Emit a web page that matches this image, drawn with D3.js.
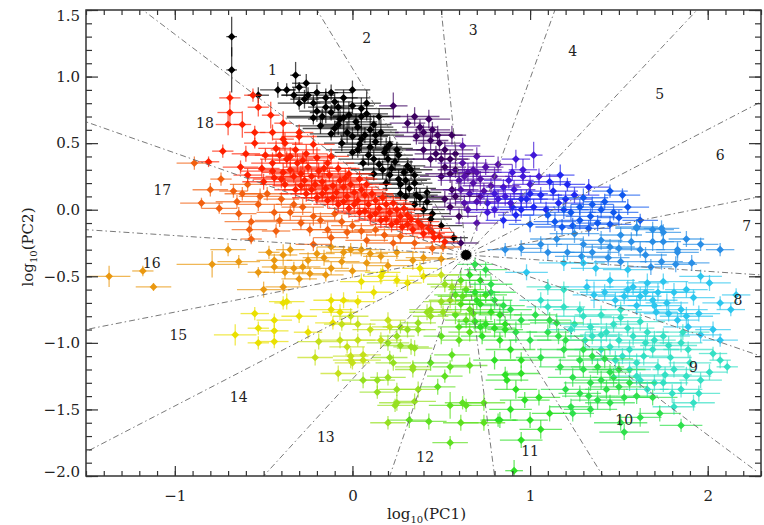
<!DOCTYPE html>
<html>
<head>
<meta charset="utf-8">
<script src="https://cdn.jsdelivr.net/npm/d3@7"></script>
<style>
  body { margin: 0; background: #fff; }
  svg { display: block; }
</style>
</head>
<body>
<div id="chart"></div>
<script>
// axes
const xDomain = [-1.5, 2.3];
const yDomain = [-2.0, 1.5];
const xTicks = [-1, 0, 1, 2];
const yTicks = [-2.0, -1.5, -1.0, -0.5, 0.0, 0.5, 1.0, 1.5];

// centre of the sectors and where each dash-dot ray meets the frame (clockwise from the 18|1 ray)
const center = [0.64, -0.34];
const rayEnds = [
  [-1.18, 1.5], [-0.20, 1.5], [0.50, 1.5], [1.14, 1.5], [1.94, 1.5],
  [2.3, 0.81], [2.3, 0.10], [2.3, -0.49], [2.3, -1.10], [2.28, -1.97],
  [1.41, -2.0], [0.80, -2.0], [0.21, -2.0], [-0.50, -2.0],
  [-1.5, -1.82], [-1.5, -0.90], [-1.5, -0.15], [-1.5, 0.66]
];
const sectorNames = ["1","2","3","4","5","6","7","8","9","10","11","12","13","14","15","16","17","18"];
const sectorLabelPos = [
  [-0.45, 1.05], [0.08, 1.29], [0.68, 1.35], [1.24, 1.19], [1.73, 0.87], [2.07, 0.41],
  [2.22, -0.12], [2.17, -0.68], [1.92, -1.18], [1.53, -1.58], [1.00, -1.81], [0.41, -1.86],
  [-0.15, -1.71], [-0.64, -1.41], [-0.98, -0.94], [-1.13, -0.40], [-1.07, 0.15], [-0.83, 0.65]
];
const sectorColors = [
  "#000000", "#3c0060", "#560fa8", "#4218d8", "#1f28f0", "#1058ee",
  "#2a8ee6", "#2cc6ee", "#34e0c4", "#2ee04c", "#2ee026", "#5ee020",
  "#96e020", "#c4e01a", "#eae000", "#ea9810", "#f26010", "#ff2000"
];

// points: [log PC1, log PC2, error PC1, error PC2]
const blackPts = [
  [-0.68,1.30,0.03,0.15],[-0.68,1.05,0.03,0.17],[-0.53,0.86,0.06,0.06],[-0.37,0.90,0.05,0.05],
  [-0.33,0.86,0.07,0.06],[-0.30,0.92,0.04,0.04],[-0.27,0.83,0.08,0.07],[-0.32,1.01,0.03,0.10],
  [-0.22,0.80,0.10,0.06],[-0.08,0.77,0.06,0.05],[-0.30,0.80,0.12,0.05],[-0.20,0.74,0.10,0.08],
  [-0.10,0.81,0.10,0.07],[0.00,0.78,0.12,0.06],[0.08,0.80,0.08,0.10],[-0.22,0.69,0.15,0.05],
  [-0.12,0.73,0.12,0.06],[-0.02,0.71,0.10,0.10],[0.08,0.72,0.12,0.05],[-0.18,0.63,0.14,0.06],
  [-0.08,0.64,0.10,0.08],[0.02,0.66,0.12,0.06],[0.12,0.64,0.10,0.07],[-0.12,0.57,0.12,0.05],
  [-0.03,0.58,0.10,0.08],[0.07,0.56,0.14,0.06],[0.16,0.58,0.10,0.10],[-0.06,0.50,0.10,0.06],
  [0.04,0.49,0.12,0.07],[0.13,0.51,0.10,0.05],[0.21,0.49,0.12,0.06],[0.00,0.43,0.10,0.05],
  [0.09,0.41,0.12,0.08],[0.18,0.43,0.10,0.06],[0.26,0.41,0.08,0.05],[0.06,0.35,0.10,0.06],
  [0.15,0.34,0.12,0.05],[0.24,0.36,0.10,0.07],[0.31,0.33,0.10,0.06],[0.12,0.27,0.10,0.05],
  [0.21,0.26,0.12,0.06],[0.29,0.28,0.10,0.05],[0.35,0.26,0.08,0.07],[0.19,0.20,0.10,0.06],
  [0.27,0.19,0.12,0.05],[0.35,0.20,0.10,0.06],[0.27,0.12,0.10,0.05],[0.36,0.11,0.12,0.06],
  [0.42,0.13,0.08,0.05],[0.35,0.04,0.10,0.05],[0.42,0.06,0.10,0.06],[0.45,-0.03,0.10,0.04],
  [0.50,-0.12,0.12,0.04],[0.57,-0.21,0.08,0.04],[0.61,-0.25,0.10,0.05],[0.10,0.60,0.15,0.12],
  [-0.15,0.77,0.10,0.12],[0.05,0.53,0.12,0.10],[0.20,0.38,0.15,0.10],[0.30,0.22,0.12,0.10],
  [-0.05,0.69,0.08,0.14],
  [-0.25,0.86,0.15,0.06],[-0.15,0.84,0.18,0.07],[-0.05,0.84,0.15,0.06],[0.05,0.76,0.18,0.08],
  [-0.17,0.70,0.20,0.06],[-0.07,0.68,0.18,0.07],[0.03,0.62,0.20,0.06],[0.13,0.56,0.16,0.08],
  [-0.10,0.61,0.18,0.06],[0.00,0.55,0.20,0.07],[0.10,0.47,0.18,0.06],[0.19,0.46,0.15,0.08],
  [0.03,0.45,0.18,0.06],[0.12,0.38,0.20,0.07],[0.22,0.31,0.16,0.06],[0.26,0.23,0.18,0.07],
  [0.32,0.16,0.15,0.06],[0.38,0.09,0.14,0.07],[0.40,0.00,0.12,0.06],[0.44,-0.07,0.12,0.05],
  [0.30,0.10,0.16,0.06],[0.17,0.30,0.18,0.07],[0.25,0.45,0.14,0.06],[0.33,0.30,0.12,0.07],
  [-0.20,0.88,0.12,0.06],[-0.42,0.90,0.10,0.06],[-0.26,0.95,0.08,0.07],[0.15,0.70,0.12,0.06],
  [0.05,0.70,0.16,0.08],[-0.12,0.88,0.12,0.06],[0.00,0.90,0.10,0.07]
];
const redPts = [
  [-0.69,0.84,0.06,0.05],[-0.69,0.73,0.07,0.10],[-0.70,0.64,0.07,0.08],[-0.62,0.64,0.05,0.10],
  [-0.53,0.77,0.06,0.07],[-0.56,0.86,0.05,0.05],[-0.55,0.50,0.06,0.04],[-0.46,0.71,0.05,0.10],
  [-0.39,0.65,0.05,0.09],[-0.39,0.53,0.06,0.07],[-0.73,0.44,0.06,0.05],[-0.63,0.32,0.10,0.05],
  [-0.81,0.36,0.06,0.04],[-0.59,0.26,0.08,0.05],[-0.30,0.58,0.08,0.06],[-0.55,0.58,0.06,0.05],
  [-0.60,0.42,0.08,0.06],[-0.45,0.58,0.07,0.06],[-0.30,0.55,0.10,0.06],[-0.22,0.49,0.12,0.07],
  [-0.12,0.40,0.10,0.06],
  [-0.50,0.21,0.12,0.06],[-0.51,0.31,0.10,0.07],[-0.49,0.41,0.14,0.05],
  [-0.44,0.24,0.15,0.06],[-0.45,0.35,0.12,0.08],[-0.43,0.46,0.10,0.06],
  [-0.38,0.19,0.14,0.05],[-0.39,0.28,0.12,0.07],[-0.37,0.38,0.15,0.06],[-0.38,0.50,0.10,0.08],
  [-0.32,0.15,0.12,0.06],[-0.33,0.25,0.16,0.05],[-0.31,0.35,0.12,0.07],[-0.32,0.45,0.14,0.06],
  [-0.26,0.12,0.15,0.06],[-0.27,0.22,0.12,0.08],[-0.25,0.32,0.14,0.05],[-0.26,0.42,0.12,0.07],
  [-0.20,0.09,0.14,0.05],[-0.21,0.19,0.12,0.07],[-0.19,0.29,0.16,0.06],[-0.20,0.39,0.10,0.08],
  [-0.14,0.07,0.12,0.06],[-0.15,0.16,0.14,0.07],[-0.13,0.26,0.12,0.05],[-0.14,0.35,0.15,0.07],
  [-0.08,0.04,0.14,0.06],[-0.09,0.13,0.12,0.08],[-0.07,0.22,0.15,0.06],[-0.08,0.31,0.12,0.05],
  [-0.02,0.01,0.12,0.07],[-0.03,0.10,0.16,0.06],[-0.01,0.19,0.12,0.07],[-0.02,0.27,0.14,0.05],
  [0.04,-0.02,0.14,0.06],[0.03,0.07,0.12,0.07],[0.05,0.15,0.15,0.05],[0.04,0.23,0.10,0.06],
  [0.10,-0.05,0.12,0.06],[0.09,0.04,0.14,0.07],[0.11,0.12,0.12,0.05],
  [0.16,-0.08,0.15,0.06],[0.15,0.01,0.12,0.07],[0.17,0.09,0.10,0.05],
  [0.22,-0.11,0.12,0.06],[0.21,-0.02,0.14,0.05],[0.23,0.05,0.10,0.06],
  [0.28,-0.13,0.14,0.05],[0.27,-0.05,0.12,0.06],[0.29,0.01,0.10,0.05],
  [0.34,-0.15,0.12,0.05],[0.33,-0.07,0.10,0.06],[0.40,-0.18,0.12,0.05],[0.39,-0.12,0.10,0.05],
  [0.46,-0.21,0.10,0.04],[0.45,-0.17,0.12,0.05],[0.52,-0.24,0.08,0.04],
  [-0.45,0.29,0.18,0.06],[-0.40,0.23,0.16,0.07],[-0.35,0.30,0.18,0.06],[-0.29,0.18,0.16,0.07],
  [-0.23,0.25,0.18,0.06],[-0.17,0.21,0.20,0.07],[-0.11,0.18,0.18,0.06],[-0.05,0.17,0.20,0.07],
  [0.01,0.13,0.18,0.06],[0.07,0.11,0.16,0.07],[0.13,0.07,0.18,0.06],[0.19,0.04,0.16,0.07],
  [0.25,0.00,0.15,0.06],[0.31,-0.04,0.14,0.06],[0.37,-0.09,0.12,0.06],[0.43,-0.14,0.12,0.05],
  [0.49,-0.20,0.10,0.05],[-0.11,0.09,0.18,0.06],[-0.05,0.06,0.16,0.07],[0.01,0.04,0.18,0.06],
  [0.07,-0.01,0.16,0.07],[0.13,-0.03,0.18,0.06],[0.19,-0.07,0.16,0.06],[0.25,-0.09,0.15,0.06],
  [0.31,-0.11,0.14,0.05],[-0.17,0.12,0.18,0.06],[-0.23,0.15,0.16,0.07],[-0.29,0.27,0.18,0.06],
  [-0.35,0.40,0.16,0.07],[-0.41,0.41,0.14,0.06],[-0.28,0.37,0.16,0.07],[-0.16,0.31,0.18,0.06],
  [-0.04,0.24,0.16,0.07],[0.08,0.19,0.14,0.06]
];
const orangeRedPts = [
  [-0.89,0.35,0.10,0.05],[-0.75,0.01,0.10,0.04],[-0.65,0.06,0.12,0.05],[-0.74,0.23,0.06,0.05],
  [-0.67,0.14,0.08,0.05],[-0.57,-0.09,0.15,0.05],[-0.58,-0.15,0.10,0.05],[-0.43,-0.16,0.08,0.05],
  [-0.57,-0.22,0.06,0.04],[-0.53,0.04,0.12,0.05],[-0.44,-0.02,0.10,0.06],[-0.59,0.19,0.10,0.05],
  [-0.52,0.10,0.12,0.06],[-0.64,-0.03,0.10,0.05],[-0.41,-0.08,0.14,0.05],[-0.35,-0.02,0.12,0.06],
  [-0.29,-0.10,0.14,0.05],[-0.22,-0.05,0.12,0.07],[-0.33,0.04,0.10,0.05],[-0.24,-0.15,0.10,0.05],
  [-0.14,-0.15,0.12,0.06],[-0.03,-0.17,0.14,0.05],[0.08,-0.23,0.12,0.05],[0.23,-0.25,0.15,0.05],
  [-0.12,-0.21,0.10,0.05],[0.05,-0.16,0.10,0.06],[0.27,-0.20,0.10,0.05],[-0.18,-0.08,0.12,0.06],
  [-0.06,-0.09,0.10,0.05],[0.13,-0.15,0.12,0.05],[0.51,-0.28,0.10,0.04],[-0.10,-0.03,0.12,0.05],
  [0.00,-0.12,0.12,0.05],[0.18,-0.19,0.10,0.05],[0.35,-0.25,0.10,0.05],[0.45,-0.29,0.12,0.05],
  [-0.40,0.08,0.10,0.05],[-0.48,0.12,0.12,0.05],[-0.62,0.12,0.10,0.05],[-0.80,0.15,0.10,0.05],
  [-0.85,0.05,0.12,0.04],[-0.28,0.02,0.12,0.06]
];
const orangePts = [
  [-1.37,-0.50,0.12,0.08],[-1.18,-0.46,0.06,0.04],[-1.12,-0.58,0.10,0.03],[-0.79,-0.41,0.20,0.10],
  [-0.64,-0.39,0.12,0.05],[-0.53,-0.47,0.06,0.04],[-0.47,-0.32,0.06,0.05],[-0.39,-0.34,0.08,0.08],
  [-0.44,-0.43,0.07,0.05],[-0.50,-0.60,0.15,0.06],[-0.39,-0.58,0.10,0.05],[-0.35,-0.30,0.08,0.05],
  [-0.28,-0.43,0.10,0.05],[-0.16,-0.36,0.12,0.06],[-0.06,-0.39,0.10,0.05],[-0.01,-0.30,0.10,0.05],
  [-0.12,-0.28,0.08,0.05],[-0.22,-0.26,0.10,0.05],[0.25,-0.32,0.12,0.05],[0.34,-0.38,0.10,0.07],
  [-0.44,-0.38,0.10,0.05],[-0.33,-0.44,0.10,0.05],[-0.25,-0.38,0.12,0.06],[-0.24,-0.48,0.10,0.05],
  [-0.20,-0.33,0.10,0.05],[-0.05,-0.32,0.10,0.05],[0.08,-0.40,0.12,0.06],[0.16,-0.35,0.10,0.05],
  [0.05,-0.30,0.10,0.05],[-0.38,-0.47,0.12,0.05],[-0.12,-0.44,0.10,0.05],[-0.70,-0.30,0.10,0.05],
  [0.00,-0.46,0.10,0.05],[0.20,-0.42,0.12,0.05],[0.10,-0.33,0.10,0.05],[-0.30,-0.52,0.10,0.05],
  [-0.15,-0.49,0.10,0.05],[0.40,-0.36,0.10,0.05],[0.50,-0.37,0.08,0.05]
];
const yellowPts = [
  [-0.66,-0.94,0.12,0.08],[-0.53,-0.89,0.06,0.05],[-0.53,-1.00,0.06,0.05],[-0.44,-0.99,0.08,0.05],
  [-0.44,-0.83,0.10,0.05],[-0.39,-0.70,0.05,0.05],[-0.44,-0.91,0.08,0.05],[-0.37,-0.69,0.10,0.06],
  [-0.12,-0.68,0.10,0.05],[-0.05,-0.68,0.10,0.06],[-0.12,-0.75,0.12,0.05],[-0.07,-0.77,0.10,0.06],
  [-0.11,-0.85,0.10,0.05],[-0.01,-0.80,0.10,0.06],[0.03,-0.69,0.10,0.05],[0.05,-0.54,0.12,0.06],
  [0.12,-0.62,0.10,0.05],[0.31,-0.55,0.08,0.06],[0.38,-0.44,0.10,0.05],[0.17,-0.47,0.10,0.05],
  [0.16,-0.50,0.10,0.06],[0.25,-0.53,0.10,0.05],[0.40,-0.50,0.08,0.05],[-0.06,-0.86,0.10,0.05],
  [0.03,-0.86,0.10,0.06],[-0.19,-0.99,0.12,0.06],[-0.21,-1.11,0.10,0.06],[-0.01,-1.10,0.10,0.06],
  [0.00,-1.15,0.10,0.05],[0.06,-1.09,0.10,0.06],[-0.07,-0.98,0.12,0.06],[0.03,-0.98,0.10,0.05],
  [0.16,-0.98,0.12,0.06],[0.20,-0.83,0.10,0.06],[0.10,-0.90,0.10,0.05],[-0.08,-1.23,0.10,0.06],
  [0.06,-1.28,0.12,0.06],[0.14,-1.37,0.10,0.05],[0.20,-1.26,0.10,0.06],[-0.03,-1.03,0.10,0.05],
  [-0.01,-1.13,0.10,0.06],[0.06,-1.13,0.10,0.05],[0.14,-1.28,0.10,0.06],[0.21,-1.11,0.10,0.05],
  [0.20,-1.00,0.12,0.06],[0.25,-0.95,0.10,0.05],[0.33,-1.03,0.10,0.06],[0.21,-0.88,0.10,0.05],
  [0.31,-0.90,0.10,0.06],[0.37,-0.85,0.10,0.05],[0.44,-0.80,0.10,0.06],[0.51,-0.77,0.10,0.05],
  [-0.30,-0.80,0.10,0.05],[-0.25,-0.92,0.08,0.05],[-0.55,-0.78,0.08,0.05]
];
const greenPts = [
  [0.23,-1.15,0.10,0.06],[0.27,-1.02,0.10,0.05],[0.35,-1.04,0.10,0.06],[0.34,-1.20,0.10,0.06],
  [0.37,-0.90,0.10,0.05],[0.42,-0.77,0.10,0.06],[0.50,-0.69,0.10,0.05],[0.27,-0.88,0.10,0.05],
  [0.48,-1.33,0.10,0.06],[0.24,-1.47,0.10,0.05],[0.35,-1.44,0.12,0.06],[0.20,-1.60,0.10,0.05],
  [0.32,-1.58,0.12,0.06],[0.43,-1.59,0.10,0.06],[0.55,-1.47,0.12,0.10],[0.55,-1.75,0.10,0.05],
  [0.61,-1.60,0.10,0.06],[0.64,-1.47,0.10,0.05],[0.66,-1.17,0.10,0.06],[0.56,-1.09,0.10,0.05],
  [0.34,-1.18,0.10,0.05],[0.44,-1.15,0.10,0.06],[0.55,-1.18,0.10,0.05],[0.37,-1.35,0.10,0.06],
  [0.25,-1.35,0.10,0.05],[0.25,-1.45,0.10,0.06],[0.62,-1.45,0.10,0.05],[0.74,-1.45,0.12,0.06],
  [0.82,-1.58,0.10,0.05],[0.74,-1.60,0.12,0.06],[0.91,-1.96,0.05,0.08],[0.50,-0.95,0.10,0.06],
  [0.60,-0.98,0.10,0.05],[0.52,-1.25,0.10,0.05]
];
const brightGreenPts = [
  [0.58,-0.64,0.12,0.07],[0.64,-0.60,0.10,0.06],[0.69,-0.62,0.14,0.08],[0.75,-0.64,0.12,0.06],
  [0.80,-0.68,0.10,0.07],[0.61,-0.71,0.12,0.06],[0.66,-0.75,0.14,0.07],[0.72,-0.71,0.12,0.08],
  [0.78,-0.77,0.10,0.06],[0.83,-0.79,0.12,0.07],[0.64,-0.83,0.12,0.06],[0.69,-0.84,0.10,0.07],
  [0.75,-0.86,0.14,0.06],[0.80,-0.89,0.12,0.07],[0.86,-0.90,0.10,0.06],[0.66,-0.92,0.12,0.07],
  [0.73,-0.95,0.12,0.06],[0.58,-0.79,0.10,0.07],[0.55,-0.68,0.12,0.06],[0.61,-0.53,0.10,0.07],
  [0.66,-0.49,0.12,0.06],[0.72,-0.53,0.10,0.07],[0.78,-0.56,0.12,0.06],[0.44,-0.75,0.12,0.06],
  [0.52,-0.56,0.10,0.06],[0.50,-0.49,0.10,0.05],[0.69,-0.41,0.10,0.05],[0.75,-0.45,0.12,0.06],
  [0.62,-0.65,0.14,0.06],[0.70,-0.68,0.12,0.07],[0.78,-0.62,0.14,0.06],[0.68,-0.78,0.12,0.07],
  [0.60,-0.88,0.12,0.06],[0.85,-0.72,0.12,0.07],[0.72,-0.88,0.14,0.06],[0.56,-0.58,0.12,0.06]
];
const green11Pts = [
  [0.89,-0.75,0.12,0.07],[0.86,-0.86,0.14,0.06],[0.92,-0.92,0.12,0.08],[0.83,-0.98,0.10,0.06],
  [0.89,-1.05,0.14,0.07],[0.95,-1.13,0.12,0.06],[0.80,-1.13,0.12,0.07],[0.86,-1.24,0.10,0.06],
  [0.92,-1.35,0.12,0.07],[0.97,-1.43,0.14,0.06],[0.89,-1.50,0.12,0.07],[1.00,-1.58,0.10,0.06],
  [0.95,-1.73,0.12,0.06],[1.06,-1.65,0.12,0.07],[0.83,-1.58,0.10,0.06],[1.05,-1.41,0.12,0.06],
  [0.87,-1.28,0.12,0.07],[0.95,-0.83,0.14,0.06],[1.00,-0.98,0.12,0.07],[0.95,-1.23,0.10,0.06]
];
const green10Pts = [
  [1.19,-1.05,0.15,0.06],[1.28,-1.13,0.12,0.07],[1.38,-1.18,0.15,0.06],[1.47,-1.26,0.12,0.07],
  [1.56,-1.30,0.15,0.06],[1.66,-1.35,0.12,0.06],[1.24,-1.26,0.14,0.07],[1.34,-1.30,0.15,0.06],
  [1.43,-1.35,0.12,0.07],[1.53,-1.41,0.14,0.06],[1.28,-1.38,0.12,0.06],[1.38,-1.43,0.15,0.07],
  [1.17,-1.18,0.12,0.06],[1.06,-1.11,0.14,0.07],[1.10,-0.92,0.12,0.06],[1.15,-0.85,0.15,0.07],
  [1.23,-1.48,0.12,0.06],[1.34,-1.50,0.15,0.06],[1.51,-1.60,0.15,0.06],[1.62,-1.56,0.12,0.07],
  [1.73,-1.53,0.12,0.06],[1.53,-1.67,0.14,0.06],[1.24,-1.53,0.12,0.06],[1.11,-1.53,0.10,0.06],
  [1.48,-1.13,0.14,0.07],[1.56,-1.20,0.12,0.06],[1.40,-1.05,0.15,0.07],[1.31,-0.98,0.12,0.06],
  [1.23,-0.90,0.14,0.07],[1.11,-0.83,0.12,0.06],[1.03,-0.79,0.12,0.07],[1.45,-1.22,0.12,0.06],
  [1.35,-1.10,0.14,0.06],[1.60,-1.40,0.12,0.06],
  [1.20,-0.98,0.16,0.07],[1.30,-1.05,0.15,0.06],[1.42,-1.12,0.16,0.07],[1.50,-1.20,0.15,0.06],
  [1.60,-1.25,0.14,0.07],[1.30,-1.20,0.16,0.06],[1.40,-1.28,0.15,0.07],[1.50,-1.33,0.16,0.06],
  [1.20,-1.35,0.14,0.06],[1.33,-1.40,0.15,0.07],[1.45,-1.45,0.14,0.06],[1.16,-0.95,0.14,0.06]
];
const turqPts = [
  [1.34,-0.88,0.15,0.06],[1.43,-0.92,0.12,0.07],[1.55,-0.89,0.15,0.06],[1.66,-0.92,0.12,0.07],
  [1.75,-0.95,0.15,0.06],[1.85,-1.00,0.12,0.07],[1.45,-1.03,0.14,0.06],[1.56,-1.05,0.12,0.07],
  [1.69,-1.05,0.15,0.06],[1.79,-1.11,0.12,0.07],[1.89,-1.05,0.14,0.06],[1.60,-1.15,0.12,0.07],
  [1.72,-1.18,0.15,0.06],[1.81,-1.20,0.12,0.06],[1.75,-1.30,0.14,0.07],[1.85,-1.35,0.12,0.06],
  [1.92,-1.45,0.12,0.06],[1.81,-1.48,0.12,0.06],[1.69,-1.41,0.14,0.06],[2.11,-1.18,0.06,0.05],
  [2.07,-1.13,0.06,0.06],[2.03,-1.08,0.08,0.05],[1.28,-0.75,0.15,0.06],[1.19,-0.73,0.12,0.07],
  [1.10,-0.73,0.12,0.06],[1.40,-0.79,0.15,0.07],[1.51,-0.81,0.12,0.06],[1.62,-0.84,0.14,0.07],
  [1.96,-0.94,0.12,0.06],[2.07,-0.98,0.10,0.05],[1.96,-1.28,0.12,0.06],[2.01,-1.22,0.10,0.06],
  [1.62,-1.28,0.14,0.06],[1.40,-0.94,0.12,0.06],[1.25,-0.86,0.14,0.06],[1.85,-1.62,0.12,0.05],
  [1.06,-0.68,0.12,0.06],[1.50,-0.98,0.14,0.06],[1.70,-0.98,0.12,0.07],[1.90,-1.15,0.12,0.06],
  [1.30,-0.80,0.16,0.07],[1.47,-0.86,0.15,0.06],[1.58,-0.95,0.16,0.07],[1.65,-1.00,0.15,0.06],
  [1.78,-1.02,0.16,0.07],[1.52,-1.10,0.15,0.06],[1.64,-1.10,0.16,0.07],[1.76,-1.24,0.15,0.06],
  [1.88,-1.25,0.14,0.07],[1.70,-1.30,0.15,0.06],[1.80,-1.38,0.14,0.07],[1.95,-1.38,0.12,0.06],
  [1.86,-0.92,0.15,0.06],[1.35,-0.95,0.14,0.06]
];
const cyanPts = [
  [1.32,-0.58,0.15,0.06],[1.36,-0.64,0.12,0.10],[1.58,-0.58,0.15,0.06],[1.66,-0.55,0.12,0.07],
  [1.53,-0.65,0.15,0.06],[1.62,-0.65,0.12,0.07],[1.69,-0.68,0.14,0.06],[1.77,-0.70,0.12,0.07],
  [1.85,-0.75,0.15,0.06],[1.83,-0.83,0.12,0.06],[1.89,-0.88,0.14,0.06],[2.03,-0.90,0.10,0.06],
  [2.07,-0.70,0.10,0.05],[2.01,-0.55,0.12,0.06],[1.96,-0.50,0.12,0.05],[1.75,-0.54,0.14,0.06],
  [1.81,-0.62,0.12,0.07],[1.51,-0.75,0.12,0.06],[1.19,-0.60,0.15,0.06],[1.10,-0.58,0.12,0.06],
  [0.98,-0.47,0.12,0.06],[1.45,-0.53,0.14,0.06],[1.71,-0.77,0.12,0.06],[2.13,-0.75,0.08,0.05],
  [2.16,-0.64,0.08,0.05],[1.60,-0.72,0.14,0.07],[1.92,-0.66,0.12,0.06],[1.42,-0.62,0.14,0.06],
  [1.55,-0.60,0.15,0.07],[1.65,-0.62,0.14,0.06],[1.72,-0.62,0.15,0.07],[1.78,-0.78,0.14,0.06],
  [1.88,-0.80,0.15,0.07],[1.95,-0.78,0.12,0.06],[1.70,-0.72,0.15,0.06],[1.48,-0.68,0.14,0.06],
  [1.88,-0.60,0.12,0.06]
];
const skyPts = [
  [1.10,-0.32,0.15,0.06],[1.21,-0.32,0.12,0.06],[1.29,-0.35,0.15,0.07],[1.44,-0.36,0.12,0.06],
  [1.51,-0.39,0.15,0.06],[1.74,-0.39,0.12,0.06],[1.83,-0.32,0.12,0.07],[1.91,-0.40,0.10,0.06],
  [1.37,-0.44,0.14,0.06],[1.50,-0.29,0.12,0.06],[1.74,-0.14,0.10,0.06],[1.60,-0.14,0.12,0.06],
  [1.69,-0.24,0.12,0.07],[1.75,-0.24,0.10,0.06],[1.83,-0.30,0.12,0.06],[1.82,-0.41,0.12,0.06],
  [1.19,-0.40,0.14,0.06],[1.69,-0.15,0.12,0.06],[1.75,-0.17,0.10,0.06],[1.30,-0.26,0.15,0.06],
  [1.40,-0.23,0.12,0.07],[1.51,-0.19,0.12,0.06],[1.96,-0.26,0.10,0.05],[2.07,-0.30,0.08,0.05],
  [1.06,-0.26,0.12,0.06],[0.95,-0.29,0.12,0.06],[0.86,-0.30,0.10,0.05],[1.62,-0.30,0.14,0.06],
  [1.30,-0.40,0.12,0.06],
  [1.15,-0.22,0.15,0.06],[1.25,-0.18,0.14,0.07],[1.35,-0.32,0.15,0.06],[1.45,-0.28,0.14,0.06],
  [1.57,-0.24,0.15,0.07],[1.65,-0.34,0.12,0.06],[1.88,-0.22,0.10,0.06],[1.55,-0.45,0.14,0.06],
  [1.68,-0.43,0.12,0.06]
];
const bluePts = [
  [0.90,0.28,0.10,0.06],[0.96,0.30,0.08,0.08],[1.11,0.21,0.12,0.06],[1.21,0.19,0.10,0.05],
  [1.33,0.17,0.12,0.06],[1.52,0.11,0.10,0.05],[1.35,0.04,0.12,0.06],[1.16,0.05,0.14,0.07],
  [1.02,0.02,0.12,0.06],[0.89,0.05,0.12,0.07],[1.23,-0.02,0.14,0.06],[1.28,-0.08,0.12,0.07],
  [1.34,-0.05,0.14,0.06],[1.38,-0.10,0.12,0.06],[1.60,-0.13,0.12,0.06],[1.45,0.14,0.10,0.05],
  [1.19,0.00,0.14,0.07],[1.24,-0.12,0.12,0.06],[1.50,-0.06,0.12,0.06],[1.06,0.11,0.12,0.06],
  [1.00,0.19,0.10,0.07],[1.09,0.00,0.14,0.06],[1.14,-0.09,0.12,0.07],[1.00,-0.11,0.12,0.06],
  [0.92,-0.04,0.10,0.06],[1.40,0.00,0.12,0.06],[1.45,-0.11,0.12,0.06],[1.25,0.11,0.14,0.06],
  [1.17,0.26,0.08,0.08],[1.62,-0.08,0.10,0.05],
  [1.05,0.25,0.12,0.06],[1.13,0.14,0.14,0.07],[1.20,0.08,0.15,0.06],[1.30,0.09,0.14,0.07],
  [1.28,0.02,0.15,0.06],[1.10,-0.04,0.14,0.07],[1.18,-0.13,0.15,0.06],[1.33,-0.14,0.12,0.06],
  [1.42,0.06,0.12,0.06],[1.55,0.02,0.12,0.06],[1.47,-0.02,0.14,0.06],[0.98,0.08,0.12,0.07]
];
const purplePts = [
  [0.23,0.78,0.08,0.10],[0.31,0.65,0.10,0.07],[0.38,0.62,0.10,0.06],[0.43,0.68,0.12,0.07],
  [0.36,0.55,0.12,0.06],[0.44,0.52,0.10,0.07],[0.49,0.50,0.12,0.06],[0.40,0.45,0.10,0.07],
  [0.47,0.42,0.12,0.06],[0.55,0.38,0.10,0.07],[0.44,0.38,0.12,0.06],[0.52,0.32,0.12,0.07],
  [0.58,0.30,0.10,0.06],[0.65,0.28,0.12,0.07],[0.60,0.22,0.12,0.06],[0.68,0.20,0.10,0.07],
  [0.72,0.23,0.12,0.06],[0.56,0.15,0.12,0.07],[0.61,0.15,0.10,0.06],[0.66,0.12,0.12,0.07],
  [0.74,0.14,0.12,0.06],[0.63,0.05,0.10,0.06],[0.70,0.06,0.12,0.07],[0.76,0.05,0.12,0.06],
  [0.55,0.02,0.10,0.06],[0.76,-0.02,0.12,0.06],[0.82,0.08,0.12,0.07],[0.85,0.17,0.10,0.06],
  [0.91,0.15,0.12,0.07],[0.96,0.25,0.10,0.06],[0.82,0.34,0.08,0.06],[0.92,0.38,0.08,0.07],
  [1.02,0.41,0.05,0.10],[0.85,-0.08,0.10,0.06],[0.90,0.02,0.12,0.06],[0.95,0.08,0.12,0.07],
  [1.00,0.12,0.10,0.06],[0.80,0.25,0.12,0.07],[0.75,0.32,0.10,0.06],[0.70,0.40,0.10,0.07],
  [0.62,0.48,0.10,0.06],[0.56,0.56,0.08,0.07],[0.45,0.60,0.10,0.06],[0.50,0.25,0.12,0.07],
  [0.52,0.08,0.10,0.06],[0.60,-0.05,0.10,0.06],[0.70,-0.10,0.12,0.06],
  [0.35,0.70,0.14,0.07],[0.40,0.58,0.16,0.06],[0.48,0.56,0.14,0.07],[0.52,0.45,0.16,0.06],
  [0.58,0.42,0.14,0.07],[0.50,0.38,0.16,0.06],[0.62,0.35,0.14,0.07],[0.68,0.30,0.16,0.06],
  [0.55,0.27,0.14,0.07],[0.63,0.25,0.16,0.06],[0.70,0.28,0.14,0.07],[0.78,0.18,0.16,0.06],
  [0.72,0.10,0.14,0.07],[0.80,0.12,0.16,0.06],[0.86,0.10,0.14,0.07],[0.88,0.22,0.14,0.06],
  [0.58,0.10,0.14,0.07],[0.65,0.00,0.12,0.06],[0.80,0.00,0.14,0.06],[0.95,0.00,0.12,0.06]
];

const width = 764, height = 525;
const margin = {top: 10, right: 3, bottom: 49, left: 86};
const x = d3.scaleLinear(xDomain, [margin.left, width - margin.right]);
const y = d3.scaleLinear(yDomain, [height - margin.bottom, margin.top]);

const svg = d3.select("#chart").append("svg")
    .attr("width", width)
    .attr("height", height)
    .attr("font-family", "'DejaVu Serif', serif");

svg.append("clipPath").attr("id", "clip")
  .append("rect")
    .attr("x", margin.left).attr("y", margin.top)
    .attr("width", width - margin.left - margin.right)
    .attr("height", height - margin.top - margin.bottom);

// which sector a point falls in, from its angle round the centre
const cx = x(center[0]), cy = y(center[1]);
const angleOf = (px, py) => Math.atan2(cy - py, px - cx) * 180 / Math.PI;
const rayAngles = rayEnds.map(d => angleOf(x(d[0]), y(d[1])));
const cwFromFirst = a => (rayAngles[0] - a + 720) % 360;
function sectorOf(d) {
  const t = cwFromFirst(angleOf(x(d[0]), y(d[1])));
  let s = 0;
  rayAngles.forEach((r, k) => { if (cwFromFirst(r) <= t) s = k; });
  return s;
}

const points = [].concat(blackPts, purplePts, bluePts, skyPts, cyanPts, turqPts,
    green10Pts, green11Pts, brightGreenPts, greenPts, yellowPts, orangePts, orangeRedPts, redPts)
  .map(d => ({x: d[0], y: d[1], ex: d[2], ey: d[3], s: sectorOf(d)}));

const plot = svg.append("g").attr("clip-path", "url(#clip)");

const pt = plot.append("g")
  .selectAll("g")
  .data(points)
  .join("g")
    .attr("stroke", d => sectorColors[d.s])
    .attr("fill", d => sectorColors[d.s]);

pt.append("line")
    .attr("x1", d => x(d.x - d.ex)).attr("x2", d => x(d.x + d.ex))
    .attr("y1", d => y(d.y)).attr("y2", d => y(d.y))
    .attr("stroke-width", 1.3).attr("stroke-opacity", 0.7);
pt.append("line")
    .attr("x1", d => x(d.x)).attr("x2", d => x(d.x))
    .attr("y1", d => y(d.y - d.ey)).attr("y2", d => y(d.y + d.ey))
    .attr("stroke-width", 1.3).attr("stroke-opacity", 0.7);
pt.append("path")
    .attr("d", d3.symbol(d3.symbolSquare, 30))
    .attr("stroke", "none")
    .attr("transform", d => `translate(${x(d.x)},${y(d.y)}) rotate(45)`);

// dash-dot rays
plot.append("g")
  .selectAll("line")
  .data(rayEnds)
  .join("line")
    .attr("x1", cx).attr("y1", cy)
    .attr("x2", d => x(d[0])).attr("y2", d => y(d[1]))
    .attr("stroke", "#6a6a6a")
    .attr("stroke-width", 0.9)
    .attr("stroke-dasharray", "6,3,1.5,3");

plot.append("circle")
    .attr("cx", cx).attr("cy", cy).attr("r", 5)
    .attr("fill", "#000");

// sector numbers
svg.append("g")
  .selectAll("text")
  .data(sectorLabelPos)
  .join("text")
    .attr("x", d => x(d[0]))
    .attr("y", d => y(d[1]))
    .attr("text-anchor", "middle")
    .attr("dominant-baseline", "central")
    .attr("font-size", 14)
    .attr("fill", "#222")
    .text((d, i) => sectorNames[i]);

// axes, ticks inside the frame on all four sides
const xMinor = d3.range(-15, 24).map(v => v / 10);
const yMinor = d3.range(-20, 16).map(v => v / 10);
const styleAxis = g => g
    .call(g => g.select(".domain").remove())
    .call(g => g.selectAll("line").attr("stroke", "#333").attr("stroke-width", 1.2))
    .attr("font-family", "'DejaVu Serif', serif")
    .attr("font-size", 15)
    .call(g => g.selectAll("text").attr("fill", "#222"));

const yBottom = y(yDomain[0]), yTop = y(yDomain[1]);
const xLeft = x(xDomain[0]), xRight = x(xDomain[1]);

svg.append("g").attr("transform", `translate(0,${yBottom})`)
    .call(d3.axisBottom(x).tickValues(xTicks).tickSizeInner(-10).tickSizeOuter(0)
      .tickPadding(14).tickFormat(d3.format("d")))
    .call(styleAxis);
svg.append("g").attr("transform", `translate(0,${yBottom})`)
    .call(d3.axisBottom(x).tickValues(xMinor).tickSize(-5).tickFormat(""))
    .call(styleAxis);
svg.append("g").attr("transform", `translate(0,${yTop})`)
    .call(d3.axisTop(x).tickValues(xTicks).tickSize(-10).tickFormat(""))
    .call(styleAxis);
svg.append("g").attr("transform", `translate(0,${yTop})`)
    .call(d3.axisTop(x).tickValues(xMinor).tickSize(-5).tickFormat(""))
    .call(styleAxis);

svg.append("g").attr("transform", `translate(${xLeft},0)`)
    .call(d3.axisLeft(y).tickValues(yTicks).tickSizeInner(-12).tickSizeOuter(0)
      .tickPadding(6).tickFormat(d3.format(".1f")))
    .call(styleAxis)
    .call(g => g.selectAll("text")
      .attr("dy", d => d === 1.5 ? "0.7em" : d === -2.0 ? "0.02em" : "0.32em"));
svg.append("g").attr("transform", `translate(${xLeft},0)`)
    .call(d3.axisLeft(y).tickValues(yMinor).tickSize(-6).tickFormat(""))
    .call(styleAxis);
svg.append("g").attr("transform", `translate(${xRight},0)`)
    .call(d3.axisRight(y).tickValues(yTicks).tickSize(-12).tickFormat(""))
    .call(styleAxis);
svg.append("g").attr("transform", `translate(${xRight},0)`)
    .call(d3.axisRight(y).tickValues(yMinor).tickSize(-6).tickFormat(""))
    .call(styleAxis);

svg.append("rect")
    .attr("x", xLeft).attr("y", yTop)
    .attr("width", xRight - xLeft).attr("height", yBottom - yTop)
    .attr("fill", "none")
    .attr("stroke", "#333")
    .attr("stroke-width", 1.5);

// axis titles with subscript 10
function logTitle(sel, name) {
  sel.append("tspan").text("log");
  sel.append("tspan").attr("font-size", 10).attr("dy", 4).text("10");
  sel.append("tspan").attr("dy", -4).text(`(${name})`);
}
svg.append("text")
    .attr("x", (xLeft + xRight) / 2 + 3)
    .attr("y", height - 6)
    .attr("text-anchor", "middle")
    .attr("font-size", 15)
    .attr("fill", "#222")
    .call(logTitle, "PC1");
svg.append("text")
    .attr("transform", `translate(33,${(yTop + yBottom) / 2 + 4}) rotate(-90)`)
    .attr("text-anchor", "middle")
    .attr("font-size", 15)
    .attr("fill", "#222")
    .call(logTitle, "PC2");
</script>
</body>
</html>
